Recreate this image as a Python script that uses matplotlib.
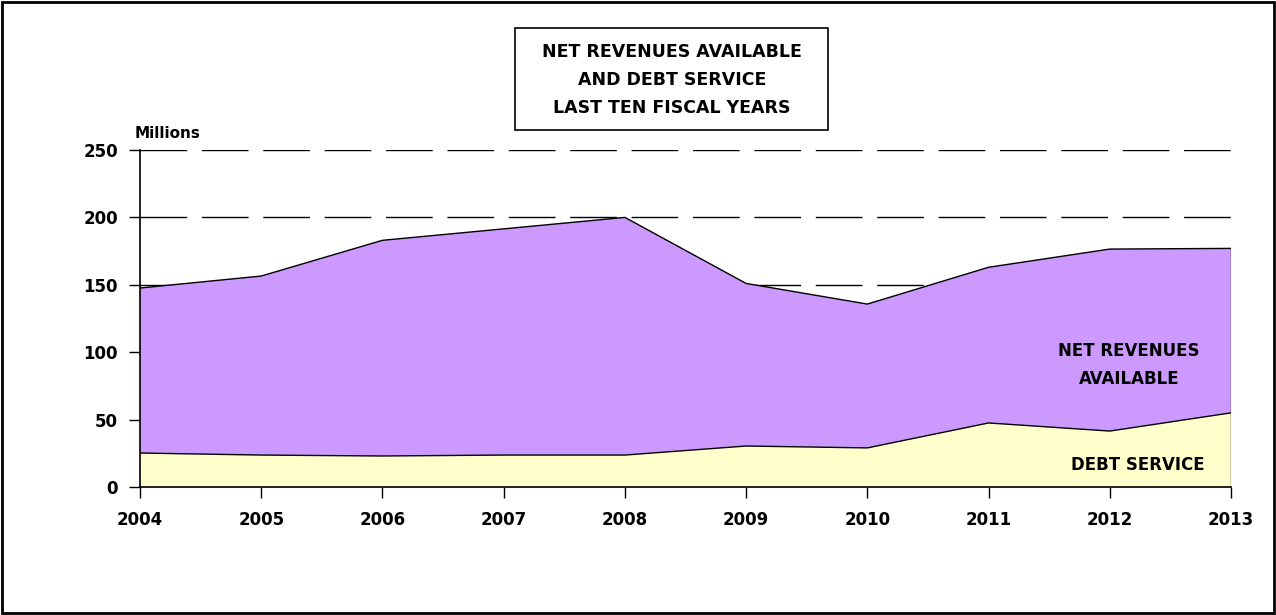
import matplotlib.pyplot as plt
from matplotlib.patches import Rectangle

years = [2004, 2005, 2006, 2007, 2008, 2009, 2010, 2011, 2012, 2013]
debt_service = [25.2, 23.7, 23.0, 23.7, 23.7, 30.4, 29.0, 47.5, 41.5, 55.0]
total = [147.6, 156.5, 183.0, 191.5, 200.0, 151.0, 135.7, 163.0, 176.5, 177.0]
yticks = [0, 50, 100, 150, 200, 250]

purple = '#CC99FF'
yellow = '#FFFFCC'
fnt = dict(fontfamily='DejaVu Sans', fontweight='bold')

fig = plt.figure(figsize=(12.76, 6.15), dpi=100)
ax = fig.add_axes([140/1276, 1 - 487/615, (1231 - 140)/1276, (487 - 150)/615])

ax.fill_between(years, 0, debt_service, facecolor=yellow, edgecolor='none', zorder=2)
ax.fill_between(years, debt_service, total, facecolor=purple, edgecolor='none', zorder=2)
ax.plot(years, debt_service, color='black', lw=1, zorder=3)
ax.plot(years, total, color='black', lw=1, zorder=3)
ax.plot([years[-1], years[-1]], [0, total[-1]], color='black', lw=1, zorder=3)

# dashed gridlines sit behind the filled areas
for v in yticks[1:]:
    ax.axhline(v, color='black', lw=1, dashes=(33.6, 10.6), zorder=1)

ax.set_xlim(years[0], years[-1])
ax.set_ylim(0, 250)
ax.set_xticks(years)
ax.set_yticks(yticks)
ax.set_xticklabels([str(y) for y in years], fontsize=12, **fnt)
ax.set_yticklabels([str(v) for v in yticks], fontsize=12, **fnt)
ax.tick_params(axis='both', direction='out', length=8, width=1, colors='black')
ax.tick_params(axis='x', pad=9)
ax.tick_params(axis='y', pad=8)
for s in ['top', 'right']:
    ax.spines[s].set_visible(False)
for s in ['left', 'bottom']:
    ax.spines[s].set_linewidth(1.2)
    ax.spines[s].set_zorder(4)

ax.text(-0.005, 1.05, 'Millions', transform=ax.transAxes, fontsize=11, ha='left', va='center', **fnt)
ax.text(2012.16, 90.5, 'NET REVENUES\nAVAILABLE', ha='center', va='center', fontsize=12,
        linespacing=1.75, zorder=5, **fnt)
ax.text(2012.23, 16.3, 'DEBT SERVICE', ha='center', va='center', fontsize=12, zorder=5, **fnt)

fig.text(672/1276, 1 - 80/615, 'NET REVENUES AVAILABLE\nAND DEBT SERVICE\nLAST TEN FISCAL YEARS',
         ha='center', va='center', fontsize=12.5, linespacing=1.7, **fnt)
fig.patches.append(Rectangle((515/1276, 1 - 130/615), 313/1276, 102/615, transform=fig.transFigure,
                             fill=False, edgecolor='black', lw=1.2))
fig.patches.append(Rectangle((2/1276, 2/615), 1272/1276, 611/615, transform=fig.transFigure,
                             fill=False, edgecolor='black', lw=2))

fig.savefig('out.png', dpi=100)
